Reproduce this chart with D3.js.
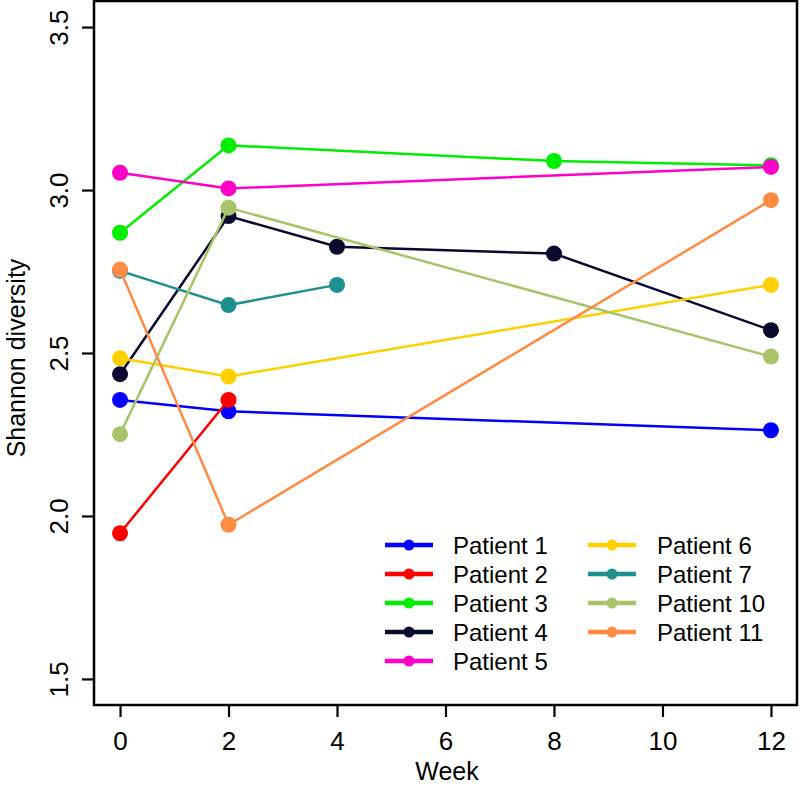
<!DOCTYPE html>
<html><head><meta charset="utf-8">
<script src="https://cdn.jsdelivr.net/npm/d3@7"></script>
<style>body{margin:0;background:#fff}svg{display:block}text{font-family:"Liberation Sans",Arial,Helvetica,sans-serif}</style>
</head><body>
<script>
const patients = ["Patient 1","Patient 2","Patient 3","Patient 4","Patient 5","Patient 6","Patient 7","Patient 10","Patient 11"];
const colors = ["#0000ff","#ff0000","#00ee00","#0a0a2e","#ff00c8","#ffd000","#1e9090","#a8c468","#ff8c42"];
const weeks = [
  [0,2,12],[0,2],[0,2,8,12],[0,2,4,8,12],[0,2,12],[0,2,12],[0,2,4],[0,2,12],[0,2,12]
];
const shannon = [
  [2.356,2.321,2.263],
  [1.947,2.356],
  [2.869,3.137,3.089,3.076],
  [2.435,2.920,2.826,2.805,2.570],
  [3.053,3.005,3.071],
  [2.484,2.428,2.709],
  [2.752,2.647,2.709],
  [2.251,2.946,2.489],
  [2.756,1.973,2.969]
];
const xTicks = [0,2,4,6,8,10,12];
const yTicks = [1.5,2.0,2.5,3.0,3.5];

const W=800,H=787;
const L=94,R=797,T=1,B=705;
const svg=d3.select("body").append("svg").attr("width",W).attr("height",H);
const x=d3.scaleLinear().domain([-0.48,12.48]).range([L,R]);
const y=d3.scaleLinear().domain([1.42,3.58]).range([B,T]);

// axes
const xa=svg.append("g").attr("transform",`translate(0,${B})`)
  .call(d3.axisBottom(x).tickValues(xTicks).tickSize(12).tickPadding(15).tickFormat(d3.format("d")));
xa.select(".domain").remove();
xa.selectAll("line").attr("stroke","#000").attr("stroke-width",2.2);
xa.selectAll("text").attr("font-size",26).attr("fill","#000").attr("font-family","Liberation Sans, Arial, sans-serif");

const ya=svg.append("g").attr("transform",`translate(${L},0)`)
  .call(d3.axisLeft(y).tickValues(yTicks).tickSize(12).tickFormat(d3.format(".1f")));
ya.select(".domain").remove();
ya.selectAll("line").attr("stroke","#000").attr("stroke-width",2.2);
ya.selectAll("text").attr("font-size",26).attr("fill","#000")
  .attr("font-family","Liberation Sans, Arial, sans-serif")
  .attr("x",0).attr("dy",0).attr("text-anchor","middle")
  .attr("transform","translate(-26,0) rotate(-90)");

svg.append("text").attr("x",447).attr("y",780).attr("text-anchor","middle").attr("font-size",25).text("Week");
svg.append("text").attr("transform","translate(25,358) rotate(-90)").attr("text-anchor","middle").attr("font-size",25).text("Shannon diversity");

// series
const line=d3.line().x(d=>x(d[0])).y(d=>y(d[1]));
patients.forEach((p,i)=>{
  const pts=weeks[i].map((w,j)=>[w,shannon[i][j]]);
  const g=svg.append("g");
  g.append("path").attr("d",line(pts)).attr("fill","none").attr("stroke",colors[i]).attr("stroke-width",2.5);
  g.selectAll("circle").data(pts).join("circle").attr("cx",d=>x(d[0])).attr("cy",d=>y(d[1])).attr("r",8).attr("fill",colors[i]);
});

// legend
const legRows=[545,574,603,632,661];
patients.forEach((p,i)=>{
  const col=i<5?0:1, row=i<5?i:i-5;
  const lx=col===0?385:588, tx=col===0?453:657, ly=legRows[row];
  const g=svg.append("g");
  g.append("line").attr("x1",lx).attr("x2",lx+48).attr("y1",ly).attr("y2",ly).attr("stroke",colors[i]).attr("stroke-width",4.5);
  g.append("circle").attr("cx",lx+24).attr("cy",ly).attr("r",5.5).attr("fill",colors[i]);
  g.append("text").attr("x",tx).attr("y",ly+8.5).attr("font-size",24).attr("fill","#000").text(p);
});

// frame
svg.append("rect").attr("x",L).attr("y",T).attr("width",R-L).attr("height",B-T).attr("fill","none").attr("stroke","#000").attr("stroke-width",2.5);
</script>
</body></html>
